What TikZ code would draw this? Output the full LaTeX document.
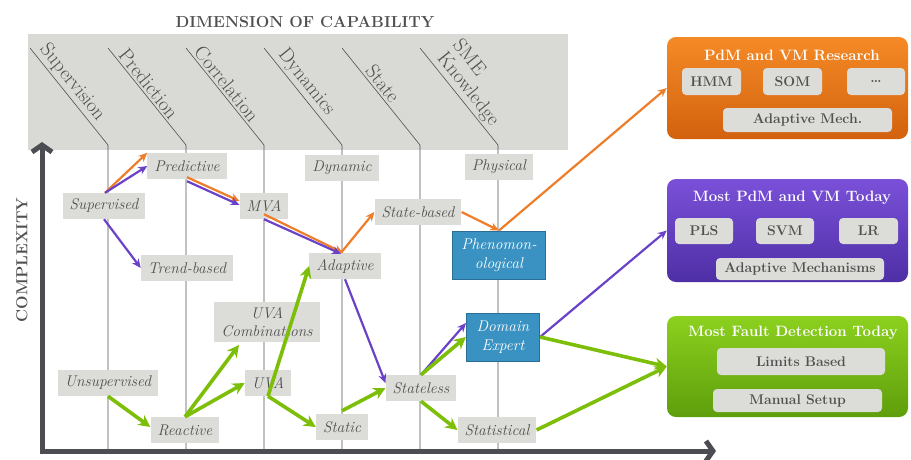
\documentclass[tikz,border=0pt]{standalone}
\usepackage{tikz}
\usetikzlibrary{positioning}
\usetikzlibrary{arrows.meta}
\definecolor{boxgrey}{HTML}{DCDCD8}
\definecolor{headgrey}{HTML}{D9D9D5}
\definecolor{inkgrey}{HTML}{505050}
\definecolor{axisgrey}{HTML}{4B4D52}
\definecolor{orangec}{HTML}{EE7D2A}
\definecolor{purplec}{HTML}{6A42C8}
\definecolor{greenc}{HTML}{7CBE08}
\definecolor{bluec}{HTML}{3A92C2}
\definecolor{bluedark}{HTML}{2A6E98}
\definecolor{orangetop}{HTML}{F58A26}
\definecolor{orangebot}{HTML}{D2620E}
\definecolor{purpletop}{HTML}{7A50D8}
\definecolor{purplebot}{HTML}{4E2FA6}
\definecolor{greentop}{HTML}{8CD11E}
\definecolor{greenbot}{HTML}{5E9E0C}
\tikzset{%
  stage/.style = {rectangle,fill=boxgrey,text=inkgrey,
        font=\fontsize{15.5}{18}\selectfont\itshape,
        inner xsep=7pt,inner ysep=2pt,minimum height=26pt,align=center},
  expert/.style = {rectangle,fill=bluec,draw=bluedark,line width=1pt,
        text=white,font=\fontsize{15.5}{19}\selectfont\itshape,
        inner sep=2pt,minimum height=48pt,align=center},
  dimline/.style = {draw=inkgrey,line width=0.6pt},
  dimlabel/.style = {pos=0.43,sloped,above,text=inkgrey,inner sep=2pt,
        font=\fontsize{20}{20}\selectfont},
  orangearrow/.style = {-{Stealth[length=9pt,width=8pt]},draw=orangec,
        line width=2.2pt},
  purplearrow/.style = {-{Stealth[length=9pt,width=8pt]},draw=purplec,
        line width=2.2pt},
  greenarrow/.style = {-{Stealth[length=12pt,width=12pt]},draw=greenc,
        line width=3.6pt},
  axisline/.style = {{Straight Barb[length=7pt,width=20pt]}-{Straight Barb[length=7pt,width=20pt]},
        draw=axisgrey,line width=5pt},
  resbox/.style = {rectangle,rounded corners=9pt,minimum width=241pt},
  restitle/.style = {text=white,font=\fontsize{15}{17}\selectfont\bfseries},
  method/.style = {rectangle,rounded corners=4pt,fill=boxgrey,text=inkgrey,
        font=\fontsize{14}{16}\selectfont\bfseries,inner sep=0pt}
}
\begin{document}
\begin{tikzpicture}[x=1pt,y=-1pt]
\useasboundingbox (0,0) rectangle (911,459);

% header
\node[text=inkgrey,font=\fontsize{16}{18}\selectfont\bfseries] (title) at (305,22) {DIMENSION OF CAPABILITY};
\node[fill=headgrey,minimum width=540pt,minimum height=116pt,inner sep=0pt] (header) at (298,92) {};

\draw[dimline] (30,48) -- node[dimlabel] {Supervision} (108,145) -- (108,451);
\draw[dimline] (108,48) -- node[dimlabel] {Prediction} (186,145) -- (186,451);
\draw[dimline] (186,48) -- node[dimlabel] {Correlation} (264,145) -- (264,451);
\draw[dimline] (264,48) -- node[dimlabel] {Dynamics} (342,145) -- (342,451);
\draw[dimline] (342,48) -- node[dimlabel] {State} (420,145) -- (420,451);
\draw[dimline] (420,48) -- node[dimlabel,pos=0.5,align=left] {SME\\Knowledge} (498,145) -- (498,451);

% axes
\coordinate (origin) at (42,451);
\coordinate (ytip) at (42,142);
\coordinate (xtip) at (716,451);
\draw[axisline] (ytip) -- (origin) -- (xtip);
\node[rotate=90,text=inkgrey,font=\fontsize{16}{18}\selectfont\bfseries] (complexity) at (22,260) {COMPLEXITY};

% stages
\node[stage] (pred) at (187,166) {Predictive};
\node[stage] (sup) at (104,206) {Supervised};
\node[stage] (trend) at (187,268) {Trend-based};
\node[stage] (mva) at (264,206) {MVA};
\node[stage,inner ysep=5pt] (uvac) at (267,322) {UVA\\Combinations};
\node[stage] (unsup) at (108,383) {Unsupervised};
\node[stage] (react) at (185,430) {Reactive};
\node[stage] (uva) at (268,383) {UVA};
\node[stage] (dyn) at (342,168) {Dynamic};
\node[stage] (adapt) at (345,266) {Adaptive};
\node[stage] (stbased) at (418,212) {State-based};
\node[stage] (phys) at (499,167) {Physical};
\node[stage] (stless) at (421,388) {Stateless};
\node[stage] (static) at (342,427) {Static};
\node[stage] (statis) at (497,430) {Statistical};
\node[expert,minimum width=93pt] (phen) at (499,255) {Phenomon-\\ological};
\node[expert,minimum width=73pt] (domain) at (503,337) {Domain\\Expert};

% result boxes
\node[resbox,top color=orangetop,bottom color=orangebot,minimum height=102pt] (research) at (787.5,88) {};
\node[restitle] (researchtitle) at (792,55) {PdM and VM Research};
\node[method,minimum width=59pt,minimum height=27pt] (hmm) at (711.5,81.5) {HMM};
\node[method,minimum width=59pt,minimum height=27pt] (som) at (792.5,81.5) {SOM};
\node[method,minimum width=58pt,minimum height=27pt] (more) at (876,81.5) {\dots};
\node[method,minimum width=169pt,minimum height=24pt] (adaptmech) at (807.5,120) {Adaptive Mech.};

\node[resbox,top color=purpletop,bottom color=purplebot,minimum height=103pt] (today) at (787.5,230.5) {};
\node[restitle] (todaytitle) at (792,198) {Most PdM and VM Today};
\node[method,minimum width=58pt,minimum height=26pt] (pls) at (704,231) {PLS};
\node[method,minimum width=58pt,minimum height=26pt] (svm) at (785,231) {SVM};
\node[method,minimum width=59pt,minimum height=26pt] (lr) at (868.5,231) {LR};
\node[method,minimum width=168pt,minimum height=22pt] (adaptmechs) at (800,269) {Adaptive Mechanisms};

\node[resbox,top color=greentop,bottom color=greenbot,minimum height=101pt] (fault) at (787.5,366.5) {};
\node[restitle] (faulttitle) at (793,333) {Most Fault Detection Today};
\node[method,minimum width=168pt,minimum height=27pt] (limits) at (801,361.5) {Limits Based};
\node[method,minimum width=169pt,minimum height=23pt] (manual) at (797.5,400.5) {Manual Setup};

% supervised paths
\draw[orangearrow] ([xshift=1pt]sup.north) -- (pred.north west);
\draw[purplearrow] ([xshift=1pt]sup.north) -- (pred.west);
\draw[purplearrow] (sup.south) -- (trend.west);
\draw[orangearrow] ([yshift=2pt]pred.south) -- ([yshift=5pt]mva.west);
\draw[purplearrow] ([yshift=-2pt]pred.south) -- ([yshift=1pt]mva.west);
\draw[orangearrow] ([yshift=5pt]mva.south) -- ([xshift=-2pt]adapt.north);
\draw[purplearrow] (mva.south) -- ([xshift=-4pt,yshift=-1pt]adapt.north);
\draw[orangearrow] ([xshift=-4pt]adapt.north) -- (stbased.west);
\draw[orangearrow] (stbased.east) -- (phen.north);
\draw[orangearrow] (phen.north) -- (research.west);
\draw[purplearrow] (adapt.south) -- ([yshift=5pt]stless.west);
\draw[purplearrow] (stless.north) -- ([yshift=14pt]domain.west);
\draw[purplearrow] (domain.east) -- (today.west);

% unsupervised paths
\draw[greenarrow] (unsup.south) -- ([yshift=3pt]react.west);
\draw[greenarrow] (react.north) -- ([xshift=-28pt,yshift=-3pt]uvac.south);
\draw[greenarrow] (react.north) -- (uva.west);
\draw[greenarrow] (uva.south) -- (adapt.west);
\draw[greenarrow] (uva.south) -- (static.west);
\draw[greenarrow] ([yshift=3pt]static.north) -- (stless.west);
\draw[greenarrow] (stless.north) -- (domain.west);
\draw[greenarrow] (stless.south) -- (statis.west);
\draw[greenarrow] (domain.east) -- (fault.west);
\draw[greenarrow] (statis.east) -- (fault.west);
\end{tikzpicture}
\end{document}
